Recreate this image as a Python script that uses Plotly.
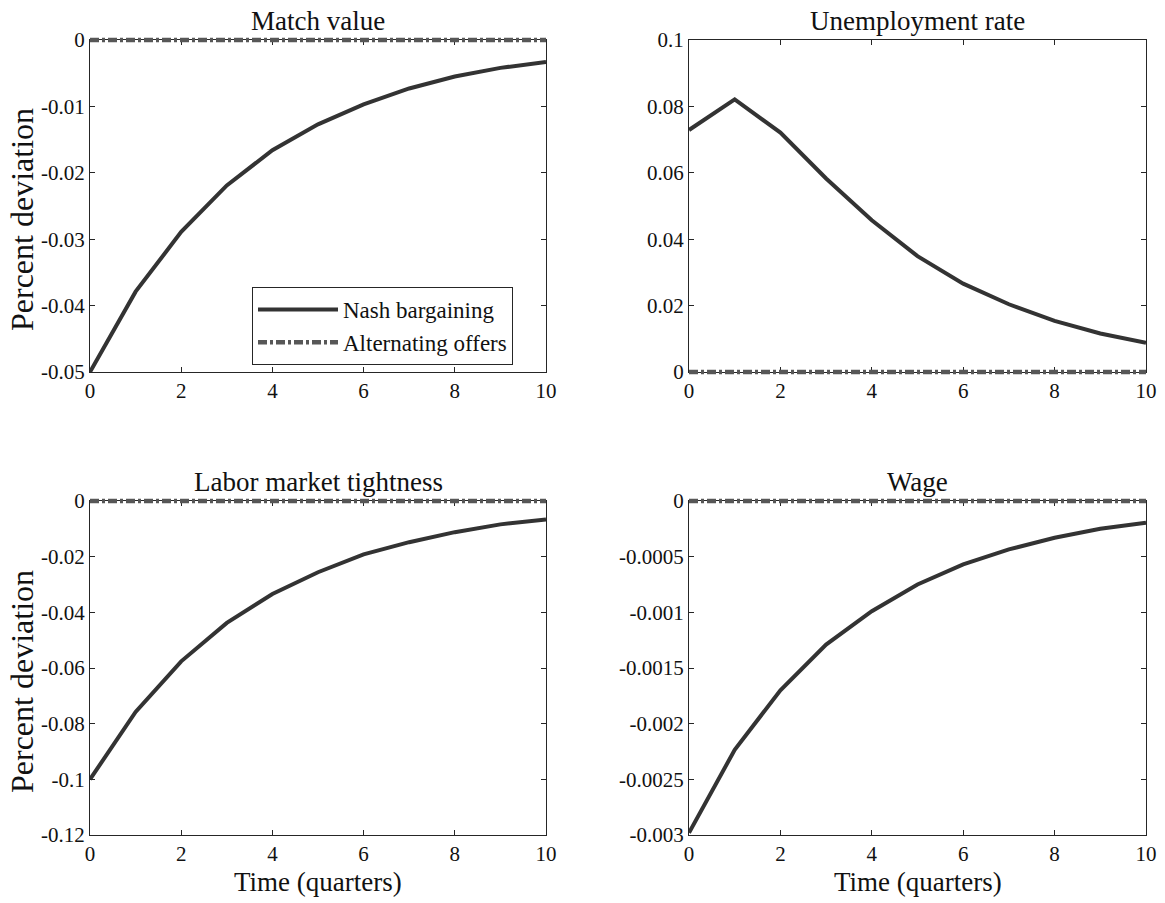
import plotly.graph_objects as go

quarters = [0, 1, 2, 3, 4, 5, 6, 7, 8, 9, 10]

match_value_nash = [-0.05, -0.0379, -0.0289, -0.0219, -0.0166, -0.0127, -0.0097, -0.0073, -0.0055, -0.0042, -0.0033]
unemployment_nash = [0.0729, 0.0821, 0.0721, 0.0583, 0.0457, 0.0349, 0.0266, 0.0204, 0.0154, 0.0116, 0.0088]
tightness_nash = [-0.1, -0.0758, -0.0576, -0.0438, -0.0334, -0.0256, -0.0192, -0.0148, -0.0112, -0.0084, -0.0066]
wage_nash = [-0.00298, -0.002235, -0.0017, -0.00129, -0.00099, -0.00075, -0.00057, -0.000435, -0.00033, -0.00025, -0.000195]
alternating = [0, 0, 0, 0, 0, 0, 0, 0, 0, 0, 0]

titles = ["Match value", "Unemployment rate", "Labor market tightness", "Wage"]
series_names = ["Nash bargaining", "Alternating offers"]
y_title = "Percent deviation"
x_title = "Time (quarters)"

x_tickvals = [0, 2, 4, 6, 8, 10]
x_ticktext = ["0", "2", "4", "6", "8", "10"]
x_range = [0, 10]

y_ticks = [
    ([-0.05, -0.04, -0.03, -0.02, -0.01, 0], ["-0.05", "-0.04", "-0.03", "-0.02", "-0.01", "0"], [-0.05, 0]),
    ([0, 0.02, 0.04, 0.06, 0.08, 0.1], ["0", "0.02", "0.04", "0.06", "0.08", "0.1"], [0, 0.1]),
    ([-0.12, -0.1, -0.08, -0.06, -0.04, -0.02, 0], ["-0.12", "-0.1", "-0.08", "-0.06", "-0.04", "-0.02", "0"], [-0.12, 0]),
    ([-0.003, -0.0025, -0.002, -0.0015, -0.001, -0.0005, 0],
     ["-0.003", "-0.0025", "-0.002", "-0.0015", "-0.001", "-0.0005", "0"], [-0.003, 0]),
]

nash_series = [match_value_nash, unemployment_nash, tightness_nash, wage_nash]

W, H = 1165, 903
boxes = [  # left, right, top, bottom in px
    (90, 546, 40, 372),
    (689, 1146, 40, 372),
    (90, 546, 501, 835),
    (689, 1146, 501, 835),
]
PAD = 5  # px of extra room so the zero line on the box edge is not clipped


def fx(px):
    return px / W


def fy(py):
    return 1 - py / H


FONT = "Liberation Serif"
AXC = "#262626"
NASH_C = "#333333"
ALT_C = "#575757"
TXT = "#111111"

fig = go.Figure()
layout = dict(
    width=W, height=H,
    margin=dict(l=0, r=0, t=0, b=0, pad=0, autoexpand=False),
    paper_bgcolor="white", plot_bgcolor="rgba(0,0,0,0)",
    font=dict(family=FONT, size=20, color=TXT),
    showlegend=True,
)


def ref(prefix, n):
    return prefix if n == 1 else f"{prefix}{n}"


annotations = []
for i in range(4):
    l, r, t, b = boxes[i]
    n = i + 1
    tv, tt, rng = y_ticks[i]
    common = dict(
        showline=True, linecolor=AXC, linewidth=1, mirror="allticks",
        ticks="inside", ticklen=5, tickcolor=AXC, tickwidth=1,
        showgrid=False, zeroline=False, fixedrange=True,
        tickfont=dict(family=FONT, size=21, color=TXT),
    )
    layout[ref("xaxis", n)] = dict(domain=[fx(l), fx(r)], range=x_range, anchor=ref("y", n),
                                   tickvals=x_tickvals, ticktext=x_ticktext, **common)
    layout[ref("yaxis", n)] = dict(domain=[fy(b), fy(t)], range=rng, anchor=ref("x", n),
                                   tickvals=tv, ticktext=tt, **common)

    # hidden, slightly larger axes mapping the same values to the same pixels
    m = n + 4
    dx = PAD * (x_range[1] - x_range[0]) / (r - l)
    dy = PAD * (rng[1] - rng[0]) / (b - t)
    layout[ref("xaxis", m)] = dict(domain=[fx(l - PAD), fx(r + PAD)],
                                   range=[x_range[0] - dx, x_range[1] + dx],
                                   anchor=ref("y", m), visible=False, fixedrange=True)
    layout[ref("yaxis", m)] = dict(domain=[fy(b + PAD), fy(t - PAD)],
                                   range=[rng[0] - dy, rng[1] + dy],
                                   anchor=ref("x", m), visible=False, fixedrange=True)

    fig.add_trace(go.Scatter(
        x=quarters, y=nash_series[i], mode="lines", name=series_names[0],
        line=dict(color=NASH_C, width=4), xaxis=ref("x", n), yaxis=ref("y", n),
        showlegend=(i == 0), legendgroup="nash", legendrank=1,
    ))
    fig.add_trace(go.Scatter(
        x=quarters, y=alternating, mode="lines", name=series_names[1],
        line=dict(color=ALT_C, width=4.5, dash="9px,3px,3px,3px"),
        xaxis=ref("x", m), yaxis=ref("y", m),
        showlegend=(i == 0), legendgroup="alt", legendrank=2,
    ))

    annotations.append(dict(
        text=titles[i], x=fx((l + r) / 2), y=fy(t - 19),
        xref="paper", yref="paper", xanchor="center", yanchor="middle",
        showarrow=False, font=dict(family=FONT, size=27, color=TXT),
    ))

# y-axis titles (left column)
for i in (0, 2):
    l, r, t, b = boxes[i]
    annotations.append(dict(
        text=y_title, x=fx(22), y=fy((t + b) / 2 + 14),
        xref="paper", yref="paper", xanchor="center", yanchor="middle",
        textangle=-90, showarrow=False, font=dict(family=FONT, size=32, color=TXT),
    ))
# x-axis titles (bottom row)
for i in (2, 3):
    l, r, t, b = boxes[i]
    annotations.append(dict(
        text=x_title, x=fx((l + r) / 2), y=fy(882),
        xref="paper", yref="paper", xanchor="center", yanchor="middle",
        showarrow=False, font=dict(family=FONT, size=27, color=TXT),
    ))

layout["annotations"] = annotations
layout["legend"] = dict(
    x=fx(252), y=fy(287), xanchor="left", yanchor="top",
    bgcolor="white", bordercolor=AXC, borderwidth=1,
    font=dict(family=FONT, size=23, color=TXT),
    itemwidth=80, tracegroupgap=0,
)

fig.update_layout(**layout)
fig.write_html("out.html", config={"displayModeBar": False},
               post_script="document.body.style.margin='0';")
